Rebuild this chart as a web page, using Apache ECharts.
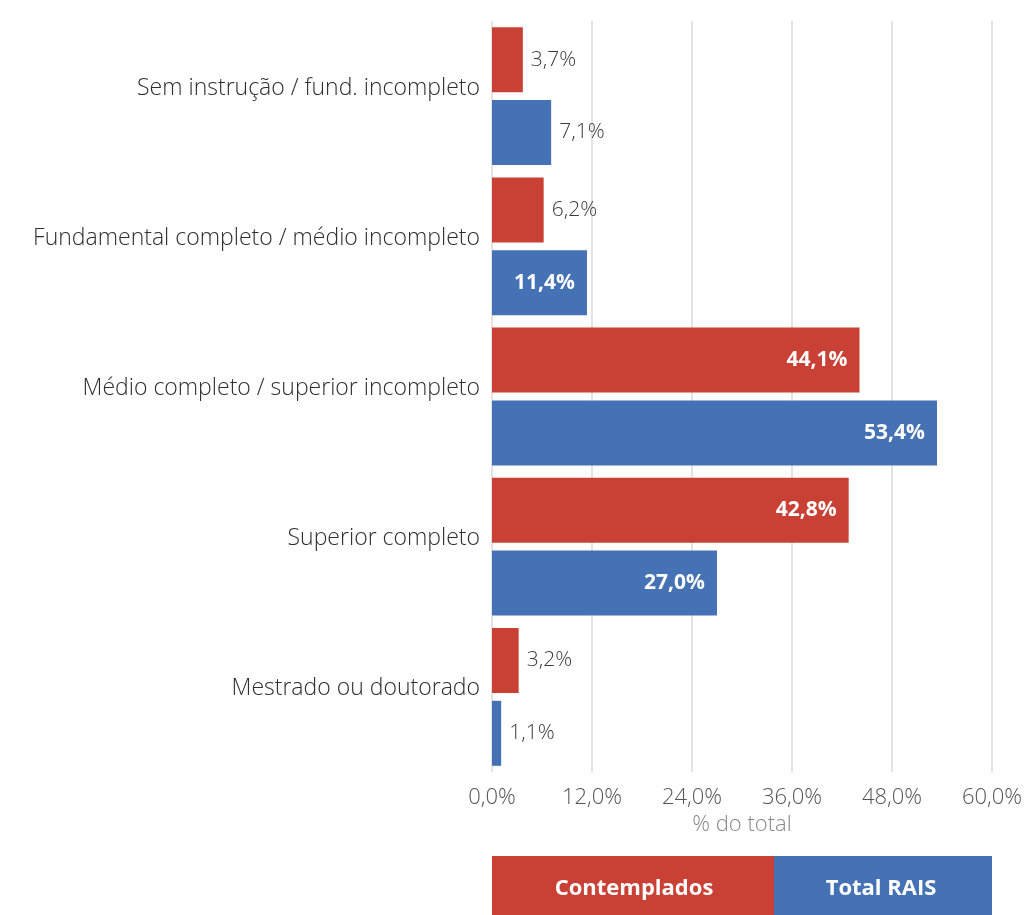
<!DOCTYPE html>
<html>
<head>
<meta charset="utf-8">
<script src="https://cdn.jsdelivr.net/npm/echarts@6/dist/echarts.min.js"></script>
<style>
  html, body { margin: 0; padding: 0; background: #fff; }
  #chart { width: 1029px; height: 915px; }
</style>
</head>
<body>
<div id="chart"></div>
<script>
var categorias = ['Sem instrução / fund. incompleto', 'Fundamental completo / médio incompleto',
    'Médio completo / superior incompleto', 'Superior completo', 'Mestrado ou doutorado'];
var contemplados = [3.7, 6.2, 44.1, 42.8, 3.2];
var totalRais = [7.1, 11.4, 53.4, 27.0, 1.1];
var nomesSeries = ['Contemplados', 'Total RAIS'];
var cores = ['#c94035', '#4472b4'];

var fonte = '"Open Sans", Lato, sans-serif';

// formata 12.3 -> "12,3%"
function pct(v) {
    return v.toFixed(1).replace('.', ',') + '%';
}

// barras largas levam o rótulo dentro, em branco
function montaDados(valores) {
    return valores.map(function (v) {
        if (v >= 10) {
            return {
                value: v,
                label: {position: 'insideRight', color: '#fff', fontWeight: 'bold', distance: 12}
            };
        }
        return {value: v};
    });
}

var rotuloValor = {
    show: true, position: 'right', distance: 8, color: '#3a3a3a', fontSize: 21,
    fontFamily: fonte, fontWeight: 300,
    formatter: function (p) { return pct(p.value); }
};

var chart = echarts.init(document.getElementById('chart'));
var option = {
    animation: false,
    textStyle: {fontFamily: fonte},
    grid: {left: 492, right: 37, top: 21, bottom: 143, containLabel: false},
    xAxis: {
        type: 'value',
        min: 0,
        max: 60,
        interval: 12,
        name: '% do total',
        nameLocation: 'middle',
        nameGap: 42,
        nameTextStyle: {color: '#888', fontSize: 22, fontFamily: fonte, fontWeight: 300},
        axisLine: {show: false},
        axisTick: {show: false},
        axisLabel: {
            color: '#555', fontSize: 22, margin: 15, fontFamily: fonte, fontWeight: 300,
            formatter: function (v) { return pct(v); }
        },
        splitLine: {show: true, lineStyle: {color: '#e3e3e3', width: 2}}
    },
    yAxis: {
        type: 'category',
        inverse: true,
        data: categorias,
        axisLine: {show: false},
        axisTick: {show: false},
        axisLabel: {
            color: '#2e2e2e', fontSize: 23, margin: 12, fontFamily: fonte, fontWeight: 300,
            verticalAlign: 'bottom', lineHeight: 16
        }
    },
    series: [
        {
            name: nomesSeries[0],
            type: 'bar',
            data: montaDados(contemplados),
            itemStyle: {color: cores[0]},
            barWidth: 65,
            barGap: '12%',
            label: rotuloValor
        },
        {
            name: nomesSeries[1],
            type: 'bar',
            data: montaDados(totalRais),
            itemStyle: {color: cores[1]},
            barWidth: 65,
            label: rotuloValor
        }
    ],
    // legenda em blocos coloridos
    graphic: [
        {type: 'rect', left: 492, top: 856, shape: {width: 282, height: 59}, style: {fill: cores[0]}},
        {type: 'rect', left: 774, top: 856, shape: {width: 218, height: 59}, style: {fill: cores[1]}},
        {type: 'text', x: 634, y: 889, style: {text: nomesSeries[0], fill: '#fff',
            font: 'bold 22px ' + fonte, align: 'center', verticalAlign: 'middle'}},
        {type: 'text', x: 881, y: 889, style: {text: nomesSeries[1], fill: '#fff',
            font: 'bold 22px ' + fonte, align: 'center', verticalAlign: 'middle'}}
    ]
};
chart.setOption(option);
</script>
</body>
</html>
